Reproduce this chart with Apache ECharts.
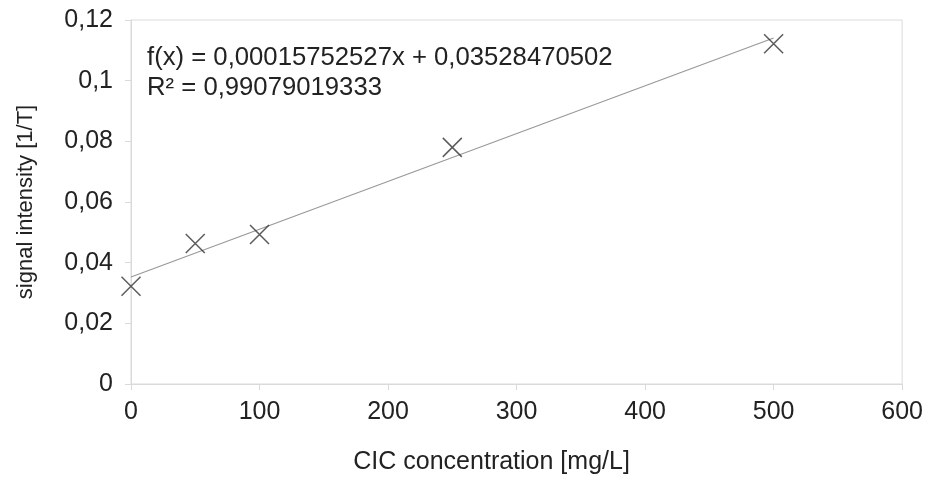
<!DOCTYPE html>
<html>
<head>
<meta charset="utf-8">
<script src="https://cdn.jsdelivr.net/npm/echarts@6/dist/echarts.min.js"></script>
<style>html,body{margin:0;padding:0;background:#fff}#c{width:926px;height:480px}</style>
</head>
<body>
<div id="c"></div>
<script>
const concentrations = [0, 50, 100, 250, 500];
const signals = [0.0322, 0.0463, 0.0493, 0.0780, 0.1122];
const trendX = [0, 500];
const trendY = [0.03528470502, 0.11404734002];
const equationLines = ["f(x) = 0,00015752527x + 0,03528470502", "R² = 0,99079019333"];

const FONT = "Liberation Sans, Arial, sans-serif";
const FS = 25;
const comma = v => String(+v.toFixed(4)).replace('.', ',');
const chart = echarts.init(document.getElementById('c'));
chart.setOption({
  animation: false,
  grid: {left: 131, right: 23, top: 20, bottom: 93, show: true, borderColor: '#dadada', borderWidth: 1},
  xAxis: {
    type: 'value', min: 0, max: 600, interval: 100,
    name: 'CIC concentration [mg/L]', nameLocation: 'middle', nameGap: 66,
    nameTextStyle: {fontFamily: FONT, fontSize: FS, color: '#222', padding: [0, 50, 0, 0]},
    axisLine: {show: true, lineStyle: {color: '#dadada'}},
    axisTick: {show: true, length: 6, lineStyle: {color: '#dadada'}},
    axisLabel: {fontFamily: FONT, fontSize: FS, color: '#222', margin: 16},
    splitLine: {show: false}
  },
  yAxis: {
    type: 'value', min: 0, max: 0.12, interval: 0.02,
    name: 'signal intensity [1/T]', nameLocation: 'middle', nameGap: 94, nameRotate: 90,
    nameTextStyle: {fontFamily: FONT, fontSize: 22, color: '#222'},
    axisLine: {show: true, lineStyle: {color: '#dadada'}},
    axisTick: {show: true, length: 6, lineStyle: {color: '#dadada'}},
    axisLabel: {fontFamily: FONT, fontSize: FS, color: '#222', margin: 18, formatter: comma},
    splitLine: {show: false}
  },
  graphic: [{
    type: 'text', left: 147, top: 43,
    style: {text: equationLines.join('\n'), font: '25.7px ' + FONT, fill: '#222', lineHeight: 30}
  }],
  series: [{
    type: 'line', data: trendX.map((x, i) => [x, trendY[i]]),
    showSymbol: false, lineStyle: {color: '#999', width: 1.2}, z: 1
  }, {
    type: 'scatter', data: concentrations.map((x, i) => [x, signals[i]]),
    symbol: 'path://M0,0L10,10M10,0L0,10', symbolSize: 19,
    itemStyle: {color: 'none', borderColor: '#333', borderWidth: 1.5}, z: 3
  }]
});
</script>
</body>
</html>
